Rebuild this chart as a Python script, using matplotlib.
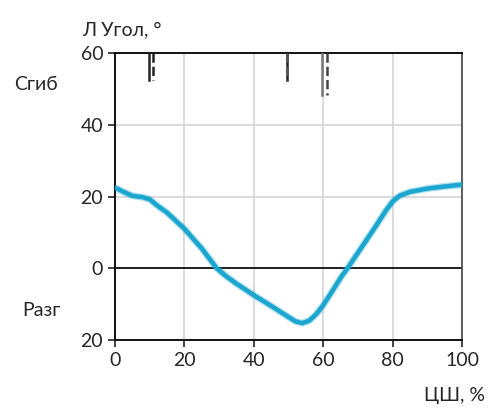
import matplotlib
matplotlib.use("Agg")
import matplotlib.pyplot as plt

# gait cycle, % and knee angle, degrees (flexion +, extension -)
cycle_pct = [0, 2, 5, 8, 10, 12, 15, 20, 25, 29.3, 32, 35, 40, 45, 50, 52, 54, 56, 58,
             60, 63, 65, 67, 70, 75, 78, 80, 82, 85, 90, 95, 100]
knee_angle = [22.5, 21.5, 20.2, 19.8, 19.2, 17.6, 15.5, 11.0, 5.5, 0.0, -2.2, -4.3, -7.5,
              -10.5, -13.6, -14.8, -15.3, -14.6, -12.8, -10.3, -5.8, -2.7, 0.0, 4.3, 11.5,
              16.0, 18.6, 20.2, 21.3, 22.2, 22.8, 23.3]

# event markers at the top: (x, bottom value, style)
event_x = [9.8, 11.0, 49.5, 49.6, 59.6, 61.0]
event_bottom = [52.5, 52.5, 52.5, 52.5, 48.3, 48.3]
event_style = ["-", "--", "-", "--", "-", "--"]
event_color = ["#222222", "#222222", "#222222", "#555555", "#777777", "#444444"]

y_ticks = [-20, 0, 20, 40, 60]
y_ticklabels = ["20", "0", "20", "40", "60"]
x_ticks = [0, 20, 40, 60, 80, 100]

plt.rcParams["font.family"] = ["Lato", "DejaVu Sans"]
text_color = "#262626"
fs = 14

fig = plt.figure(figsize=(4.93, 4.12), dpi=100)
ax = fig.add_axes([115 / 493, 1 - 340 / 412, (462 - 115) / 493, (340 - 53) / 412])

ax.set_xlim(0, 100)
ax.set_ylim(-20, 60)
ax.set_xticks(x_ticks)
ax.set_yticks(y_ticks)
ax.set_yticklabels(y_ticklabels)
ax.tick_params(labelsize=fs, colors="#222222", labelcolor=text_color, length=5, width=1.2)
ax.grid(True, color="#d4d4d4", linewidth=1.2)
ax.axhline(0, color="#111111", linewidth=1.3, zorder=2)

for sp in ["left", "bottom", "top"]:
    ax.spines[sp].set_color("#111111")
    ax.spines[sp].set_linewidth(1.4)
ax.spines["right"].set_color("#444444")
ax.spines["right"].set_linewidth(1.2)

for x, b, ls, c in zip(event_x, event_bottom, event_style, event_color):
    ax.plot([x, x], [60, b], linestyle=ls, color=c, linewidth=1.8, zorder=4)

ax.plot(cycle_pct, knee_angle, color="#1aa6cf", linewidth=5, alpha=0.35, zorder=3,
        solid_capstyle="butt")
ax.plot(cycle_pct, knee_angle, color="#1aa6cf", linewidth=3.2, zorder=3)

fig.text(82 / 493, 1 - 30 / 412, "Л Угол, °", fontsize=fs, color=text_color, va="center")
fig.text(14 / 493, 1 - 84 / 412, "Сгиб", fontsize=fs, color=text_color, va="center")
fig.text(22 / 493, 1 - 310 / 412, "Разг", fontsize=fs, color=text_color, va="center")
fig.text(485 / 493, 1 - 395 / 412, "ЦШ, %", fontsize=fs, color=text_color, va="center",
         ha="right")

fig.savefig("out.png", dpi=100, facecolor="white")
